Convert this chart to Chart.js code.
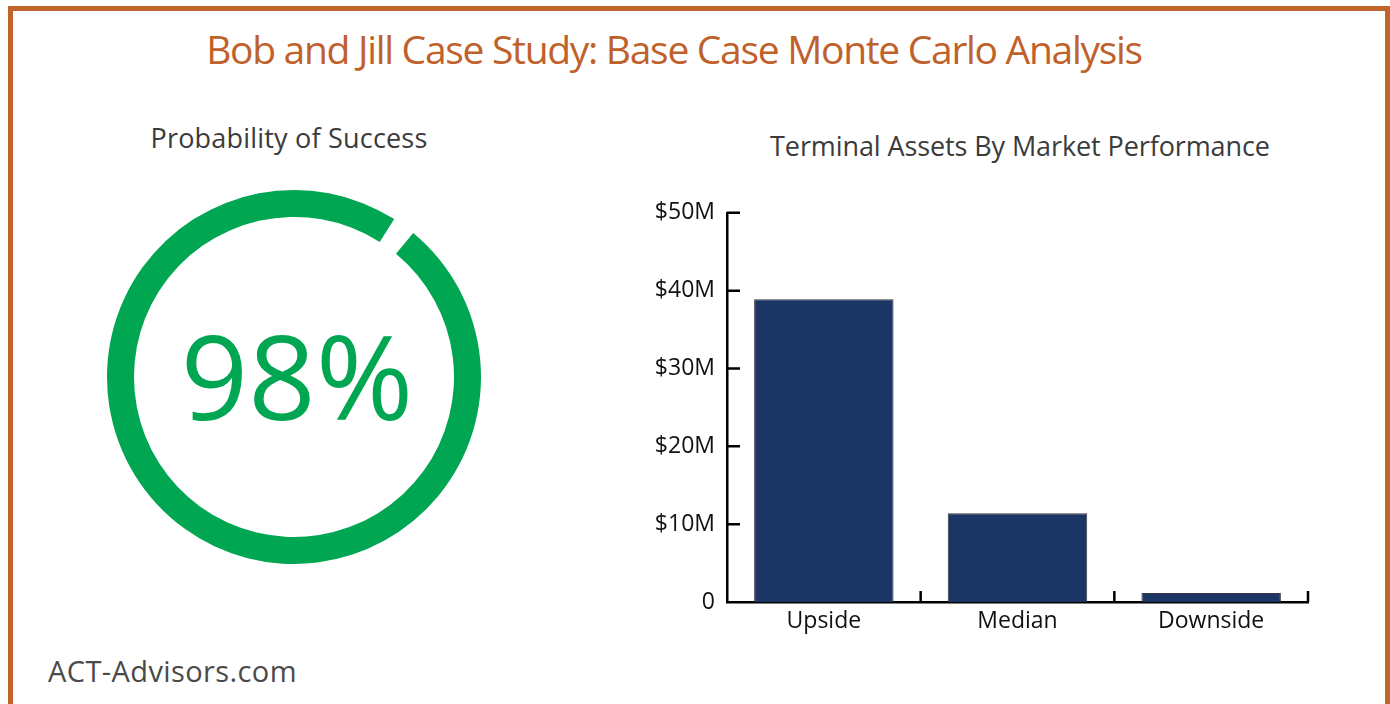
<!DOCTYPE html>
<html>
<head>
<meta charset="utf-8">
<script src="https://cdn.jsdelivr.net/npm/chart.js@4.4.1/dist/chart.umd.min.js"></script>
<style>
  html, body { margin: 0; padding: 0; background: #fff; }
  body { width: 1390px; height: 704px; position: relative; overflow: hidden; font-family: "Open Sans", sans-serif; }
  .frame { position: absolute; left: 8px; top: 6px; width: 1372px; height: 760px; border: 5px solid #c0662c; }
  .txt { position: absolute; line-height: 1; white-space: nowrap; }
  #title { left: 0; width: 1348px; text-align: center; top: 29px; font-size: 39px; color: #bf612b; letter-spacing: -1.3px; }
  #sub1 { left: 89px; width: 400px; text-align: center; top: 124px; font-size: 27px; color: #3b3b3b; letter-spacing: 0.2px; }
  #sub2 { left: 770px; width: 500px; text-align: center; top: 132px; font-size: 27px; color: #3b3b3b; letter-spacing: -0.1px; }
  #foot { left: 48px; top: 656px; font-size: 29px; color: #4a4a4a; letter-spacing: 0.4px; }
  #donutBox { position: absolute; left: 100px; top: 183px; width: 388px; height: 388px; }
  #barBox { position: absolute; left: 630px; top: 195px; width: 682px; height: 447px; }
</style>
</head>
<body>
<div class="frame"></div>
<div class="txt" id="title">Bob and Jill Case Study: Base Case Monte Carlo Analysis</div>
<div class="txt" id="sub1">Probability of Success</div>
<div class="txt" id="sub2">Terminal Assets By Market Performance</div>
<div class="txt" id="foot">ACT-Advisors.com</div>
<div id="donutBox"><canvas id="donut"></canvas></div>
<div id="barBox"><canvas id="bars"></canvas></div>
<script>
  const successPct = 98;
  const donutValues = [successPct, 100 - successPct];
  const categories = ['Upside', 'Median', 'Downside'];
  const terminalAssets = [38.9, 11.4, 1.15];   // $ millions
  const yTickLabels = { 0: '0', 10: '$10M', 20: '$20M', 30: '$30M', 40: '$40M', 50: '$50M' };

  const green = '#00a651';

  const centerText = {
    id: 'centerText',
    afterDraw(chart) {
      const { ctx, chartArea } = chart;
      const cx = (chartArea.left + chartArea.right) / 2;
      const cy = (chartArea.top + chartArea.bottom) / 2;
      ctx.save();
      ctx.fillStyle = green;
      ctx.font = '118px "Open Sans"';
      ctx.textAlign = 'center';
      ctx.textBaseline = 'alphabetic';
      ctx.fillText(successPct + '%', cx + 3, cy + 43);
      ctx.restore();
    }
  };

  new Chart(document.getElementById('donut'), {
    type: 'doughnut',
    data: {
      labels: ['Success', 'Failure'],
      datasets: [{
        data: donutValues,
        backgroundColor: [green, 'rgba(0,0,0,0)'],
        borderWidth: 0,
        radius: 187,
        cutout: 166
      }]
    },
    options: {
      responsive: true,
      maintainAspectRatio: false,
      animation: false,
      rotation: 39.6,
      plugins: { legend: { display: false }, tooltip: { enabled: false } }
    },
    plugins: [centerText]
  });

  // tick marks drawn inward, as in the reference
  const innerTicks = {
    id: 'innerTicks',
    afterDatasetsDraw(chart) {
      const { ctx, scales: { x, y } } = chart;
      ctx.save();
      ctx.strokeStyle = '#000';
      ctx.lineWidth = 2.5;
      ctx.beginPath();
      y.ticks.forEach((t, i) => {
        if (t.value === 0) return;
        const py = y.getPixelForTick(i);
        ctx.moveTo(y.right, py);
        ctx.lineTo(y.right + 13, py);
      });
      const half = (x.getPixelForTick(1) - x.getPixelForTick(0)) / 2;
      categories.forEach((c, i) => {
        const px = x.getPixelForTick(i) + half;
        ctx.moveTo(px, x.top);
        ctx.lineTo(px, x.top - 11);
      });
      ctx.stroke();
      ctx.restore();
    }
  };

  new Chart(document.getElementById('bars'), {
    type: 'bar',
    data: {
      labels: categories,
      datasets: [{
        data: terminalAssets,
        backgroundColor: '#1b3564',
        borderColor: '#3a3a3a',
        borderWidth: 1,
        categoryPercentage: 0.72,
        barPercentage: 1
      }]
    },
    options: {
      responsive: true,
      maintainAspectRatio: false,
      animation: false,
      layout: { padding: { top: 9, right: 4, left: 0, bottom: 0 } },
      plugins: { legend: { display: false }, tooltip: { enabled: false } },
      scales: {
        x: {
          grid: { display: false },
          border: { display: true, color: '#000', width: 2.5 },
          ticks: { color: '#111', font: { family: 'Open Sans', size: 23 }, padding: -2 },
          afterFit(s) { s.height = 40; }
        },
        y: {
          min: 0,
          max: 50,
          grid: { display: false },
          border: { display: true, color: '#000', width: 2.5 },
          ticks: {
            stepSize: 10,
            color: '#111',
            padding: 4,
            font: { family: 'Open Sans', size: 23 },
            callback: v => yTickLabels[v]
          },
          afterFit(s) { s.width = 97; }
        }
      }
    },
    plugins: [innerTicks]
  });
</script>
</body>
</html>
